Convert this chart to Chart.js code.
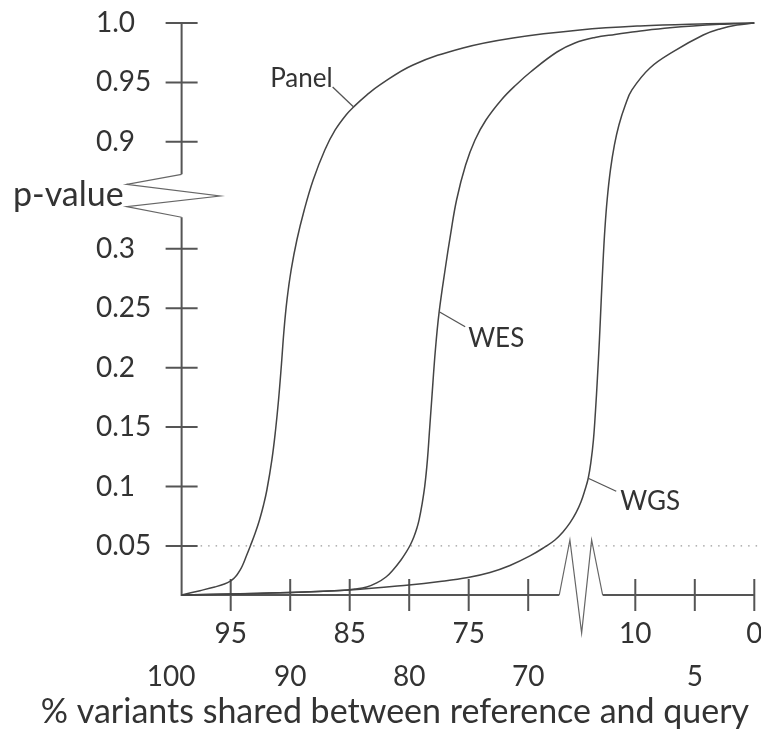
<!DOCTYPE html>
<html>
<head>
<meta charset="utf-8">
<script src="https://cdn.jsdelivr.net/npm/chart.js@4.4.1/dist/chart.umd.min.js"></script>
<style>
  html, body { margin: 0; padding: 0; background: #fff; }
</style>
</head>
<body>
<canvas id="pvalChart" width="761" height="733"></canvas>
<script>
// % of variants shared between reference and query, with the matching p-value
const panelShared = [99.12, 97.58, 96.34, 95.53, 95.0, 94.7, 94.48, 94.2, 93.99, 93.75, 93.35, 92.94, 92.58, 92.24, 91.96, 91.54, 91.23, 90.98, 90.74, 90.52, 90.27, 89.92, 89.44, 88.82, 88.07, 87.09, 86.22, 85.31, 84.67, 83.55, 82.46, 79.68, 75.48, 71.28, 41.02, 9.61, 4.57, 0];
const panelPval = [0.0088, 0.0124, 0.0155, 0.018, 0.0206, 0.0231, 0.0256, 0.0298, 0.034, 0.0399, 0.05, 0.0609, 0.0719, 0.0845, 0.0971, 0.1224, 0.1476, 0.1728, 0.2023, 0.2317, 0.257, 0.2822, 0.3496, 0.5179, 0.6862, 0.8545, 0.91, 0.9226, 0.9294, 0.9395, 0.9479, 0.9647, 0.979, 0.9874, 0.9941, 0.9975, 0.9992, 1.0];

const wesShared = [99.12, 95.06, 90.02, 85.82, 84.56, 83.57, 82.73, 81.95, 81.36, 80.69, 80.24, 79.91, 79.61, 79.35, 79.17, 78.93, 78.69, 78.47, 78.29, 78.11, 77.8, 77.48, 76.95, 76.53, 76.02, 75.26, 74.47, 73.55, 72.26, 71.03, 68.69, 53.9, 43.82, 32.62, 21.41, 9.86, 7.09, 2.89, 0];
const wesPval = [0.0088, 0.0096, 0.0109, 0.0126, 0.0138, 0.0155, 0.0189, 0.0239, 0.0298, 0.0382, 0.045, 0.0508, 0.0576, 0.0651, 0.0719, 0.0845, 0.1005, 0.1224, 0.1476, 0.1728, 0.2149, 0.2471, 0.2847, 0.3777, 0.574, 0.7703, 0.9016, 0.9184, 0.9353, 0.9479, 0.9588, 0.9756, 0.9832, 0.9878, 0.9904, 0.9929, 0.996, 0.9989, 1.0];

const wgsShared = [99.12, 95.06, 90.02, 84.98, 80.02, 77.42, 75.06, 73.21, 71.53, 69.03, 60.62, 55.02, 50.54, 46.62, 43.26, 40.46, 38.22, 36.37, 34.86, 33.46, 32.34, 31.22, 30.1, 29.09, 28.02, 27.07, 25.78, 23.93, 21.69, 19.17, 15.59, 11.89, 8.77, 6.81, 4.29, 2.89, 1.46, 0];
const wgsPval = [0.0088, 0.0096, 0.0109, 0.013, 0.0172, 0.0201, 0.0235, 0.0277, 0.0336, 0.0416, 0.0492, 0.055, 0.0618, 0.0694, 0.0778, 0.087, 0.0971, 0.107, 0.1207, 0.1392, 0.1627, 0.1913, 0.2233, 0.257, 0.2906, 0.4057, 0.574, 0.7423, 0.8825, 0.9142, 0.931, 0.9437, 0.9622, 0.9759, 0.9899, 0.995, 0.9983, 1.0];

const xTickValues = [100, 95, 90, 85, 80, 75, 70, 10, 5, 0];
const yTickValues = [0.05, 0.1, 0.15, 0.2, 0.25, 0.3, 0.9, 0.95, 1.0];
const yTickLabels = ["0.05", "0.1", "0.15", "0.2", "0.25", "0.3", "0.9", "0.95", "1.0"];
const cutoffP = 0.05;

const curveNames = ["Panel", "WES", "WGS"];
const nameShared = [84.67, 77.48, 36.37];
const namePval = [0.9294, 0.2471, 0.107];

// both axes are cut: x jumps 70 -> 10, y jumps 0.3 -> 0.9
// positions are in "tick steps", the cut itself takes GAP steps
const GAP = 1.8;
function xPos(v) {
  if (v >= 70) return (100 - v) / 5;
  if (v > 10) return 6 + GAP * (70 - v) / 60;
  return 6 + GAP + (10 - v) / 5;
}
function yPos(p) {
  if (p <= 0.3) return p / 0.05;
  if (p < 0.9) return 6 + GAP * (p - 0.3) / 0.6;
  return 6 + GAP + (p - 0.9) / 0.05;
}
const ORIGIN = 0.175; // where the two axis lines meet

function toPoints(xs, ys) {
  return xs.map((v, i) => ({ x: xPos(v), y: yPos(ys[i]) }));
}

// zigzag break marks, in scale positions
const yBreak = [[ORIGIN, 7.254], [-0.748, 7.086], [0.82, 6.889], [-0.748, 6.709], [ORIGIN, 6.531]];
const xBreak = [[6.522, ORIGIN], [6.701, 1.101], [6.898, -0.464], [7.066, 1.101], [7.251, ORIGIN]];
const TICK = 16;
// label text offset / connector end, relative to the point on the curve
const callouts = [
  { tx: -21, ty: -20, align: "right", lx: -21, ly: -20 },
  { tx: 29, ty: 35, align: "left", lx: 26, ly: 15 },
  { tx: 32, ty: 32, align: "left", lx: 28, ly: 13 }
];

const brokenAxes = {
  id: "brokenAxes",
  beforeDatasetsDraw(chart) {
    const { ctx, scales: { x, y } } = chart;
    const px = (v) => x.getPixelForValue(v);
    const py = (v) => y.getPixelForValue(v);
    const x0 = px(ORIGIN);
    const y0 = py(ORIGIN);
    ctx.save();

    // dotted line at the 0.05 cutoff
    const yc = py(yPos(cutoffP));
    ctx.strokeStyle = "#9a9a9a";
    ctx.lineWidth = 1.3;
    ctx.setLineDash([1.5, 6]);
    ctx.beginPath();
    ctx.moveTo(x0 + TICK + 3, yc);
    ctx.lineTo(chart.width, yc);
    ctx.stroke();
    ctx.setLineDash([]);

    // axis lines with a gap for the break
    ctx.strokeStyle = "#555";
    ctx.lineWidth = 2;
    ctx.beginPath();
    ctx.moveTo(x0, py(yPos(1)));
    ctx.lineTo(x0, py(yBreak[0][1]));
    ctx.moveTo(x0, py(yBreak[4][1]));
    ctx.lineTo(x0, y0);
    ctx.lineTo(px(xBreak[0][0]), y0);
    ctx.moveTo(px(xBreak[4][0]), y0);
    ctx.lineTo(px(xPos(0)), y0);
    // tick marks cross the axis
    yTickValues.forEach((p) => {
      const yy = py(yPos(p));
      ctx.moveTo(x0 - TICK, yy);
      ctx.lineTo(x0 + TICK, yy);
    });
    xTickValues.forEach((v) => {
      const pos = xPos(v);
      if (pos < ORIGIN) return;
      const xx = px(pos);
      ctx.moveTo(xx, y0 - TICK);
      ctx.lineTo(xx, y0 + TICK);
    });
    ctx.stroke();

    // zigzags
    ctx.strokeStyle = "#666";
    ctx.lineWidth = 1.2;
    [yBreak, xBreak].forEach((pts) => {
      ctx.beginPath();
      pts.forEach(([a, b], i) => {
        if (i === 0) ctx.moveTo(px(a), py(b));
        else ctx.lineTo(px(a), py(b));
      });
      ctx.stroke();
    });
    ctx.restore();
  },
  afterDraw(chart) {
    const { ctx, scales: { x, y } } = chart;
    ctx.save();
    ctx.fillStyle = "#333";
    ctx.textBaseline = "alphabetic";

    // axis titles
    ctx.font = "34px Lato";
    ctx.textAlign = "left";
    ctx.fillText("p-value", 13, 206);
    ctx.textAlign = "center";
    ctx.fillText("% variants shared between reference and query", 395, 723);

    // curve names with a short connector
    ctx.font = "26px Lato";
    ctx.strokeStyle = "#555";
    ctx.lineWidth = 1.3;
    curveNames.forEach((name, i) => {
      const ax = x.getPixelForValue(xPos(nameShared[i]));
      const ay = y.getPixelForValue(yPos(namePval[i]));
      const c = callouts[i];
      ctx.beginPath();
      ctx.moveTo(ax, ay);
      ctx.lineTo(ax + c.lx, ay + c.ly);
      ctx.stroke();
      ctx.textAlign = c.align;
      ctx.fillText(name, ax + c.tx, ay + c.ty);
    });
    ctx.restore();
  }
};

Chart.defaults.font.family = "Lato";
Chart.defaults.color = "#333";

const curveStyle = {
  borderColor: "#444",
  borderWidth: 1.5,
  pointRadius: 0,
  fill: false,
  tension: 0.4,
  clip: false
};

new Chart(document.getElementById("pvalChart"), {
  type: "line",
  data: {
    datasets: [
      Object.assign({ label: curveNames[0], data: toPoints(panelShared, panelPval) }, curveStyle),
      Object.assign({ label: curveNames[1], data: toPoints(wesShared, wesPval) }, curveStyle),
      Object.assign({ label: curveNames[2], data: toPoints(wgsShared, wgsPval) }, curveStyle)
    ]
  },
  options: {
    responsive: false,
    animation: false,
    layout: { padding: { left: 96, top: 23, right: 6.7, bottom: 0 } },
    plugins: { legend: { display: false }, tooltip: { enabled: false } },
    scales: {
      x: {
        type: "linear",
        min: 0,
        max: xPos(0),
        grid: { display: false, drawTicks: false },
        border: { display: false },
        afterBuildTicks: (s) => { s.ticks = xTickValues.map((v) => ({ value: xPos(v) })); },
        afterFit: (s) => { s.height = 138; s.paddingLeft = 0; s.paddingRight = 0; },
        ticks: {
          autoSkip: false,
          maxRotation: 0,
          minRotation: 0,
          padding: 17,
          font: { size: 28, lineHeight: 1.54 },
          // alternate the labels over two rows
          callback: (val, i) => (i % 2 === 0 ? ["", String(xTickValues[i])] : [String(xTickValues[i]), ""])
        }
      },
      y: {
        type: "linear",
        min: ORIGIN,
        max: yPos(1),
        grid: { display: false, drawTicks: false },
        border: { display: false },
        afterBuildTicks: (s) => { s.ticks = yTickValues.map((p) => ({ value: yPos(p) })); },
        afterFit: (s) => { s.width = 75.2; s.paddingTop = 0; s.paddingBottom = 0; },
        ticks: {
          crossAlign: "far",
          font: { size: 28 },
          callback: (val, i) => yTickLabels[i]
        }
      }
    }
  },
  plugins: [brokenAxes]
});
</script>
</body>
</html>
